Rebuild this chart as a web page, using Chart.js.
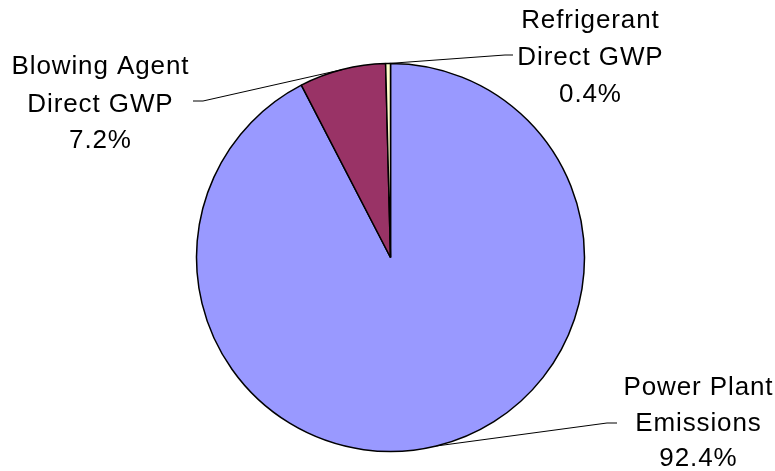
<!DOCTYPE html>
<html>
<head>
<meta charset="utf-8">
<script src="https://cdn.jsdelivr.net/npm/chart.js@4.4.1/dist/chart.umd.min.js"></script>
<style>
  html, body { margin: 0; padding: 0; background: #ffffff; }
  #wrap { width: 775px; height: 471px; position: relative; }
</style>
</head>
<body>
<div id="wrap"><canvas id="c" width="775" height="471"></canvas></div>
<script>
// ---- data ----
const categories = ["Power Plant Emissions", "Blowing Agent Direct GWP", "Refrigerant Direct GWP"];
const labelLines = [
  ["Power Plant", "Emissions"],
  ["Blowing Agent", "Direct GWP"],
  ["Refrigerant", "Direct GWP"]
];
const shares = [92.4, 7.2, 0.4];
const sliceColors = ["#9999FF", "#993366", "#FFFFCC"];

// ---- label placement (layout, not data) ----
const labelLayout = [
  { x: 698, baselines: [395, 430.5, 466], elbow: [[617, 423], [607, 423]] },
  { x: 100, baselines: [74, 111.5, 148],  elbow: [[193, 101], [203, 101]] },
  { x: 590, baselines: [28, 64.5, 101.5], elbow: [[513, 55], [505, 55]] }
];

const labelPlugin = {
  id: 'excelLabels',
  afterDatasetsDraw(chart) {
    const ctx = chart.ctx;
    const meta = chart.getDatasetMeta(0);
    const ds = chart.data.datasets[0];
    ctx.save();
    meta.data.forEach((arc, i) => {
      const p = arc.getProps(['x', 'y', 'startAngle', 'endAngle', 'outerRadius'], true);
      const mid = (p.startAngle + p.endAngle) / 2;
      const ex = p.x + Math.cos(mid) * p.outerRadius;
      const ey = p.y + Math.sin(mid) * p.outerRadius;
      const L = labelLayout[i];
      // leader line
      ctx.beginPath();
      ctx.strokeStyle = '#000000';
      ctx.lineWidth = 1;
      ctx.moveTo(L.elbow[0][0], L.elbow[0][1]);
      ctx.lineTo(L.elbow[1][0], L.elbow[1][1]);
      ctx.lineTo(ex, ey);
      ctx.stroke();
      // text
      ctx.fillStyle = '#000000';
      ctx.font = '26px "Liberation Sans", Arial, sans-serif';
      ctx.textAlign = 'center';
      ctx.textBaseline = 'alphabetic';
      try { ctx.letterSpacing = '0.9px'; } catch (e) {}
      const lines = labelLines[i].concat([ds.data[i].toFixed(1) + '%']);
      lines.forEach((t, k) => ctx.fillText(t, L.x + 0.45, L.baselines[k]));
    });
    ctx.restore();
  }
};

new Chart(document.getElementById('c'), {
  type: 'pie',
  data: {
    labels: categories,
    datasets: [{
      data: shares,
      backgroundColor: sliceColors,
      borderColor: '#000000',
      borderWidth: 1.5,
      hoverOffset: 0
    }]
  },
  options: {
    responsive: false,
    animation: false,
    radius: 194,
    layout: { padding: { top: 63.5, bottom: 19.5, left: 196.5, right: 190.5 } },
    plugins: {
      legend: { display: false },
      tooltip: { enabled: false },
      title: { display: false }
    },
    events: []
  },
  plugins: [labelPlugin]
});
</script>
</body>
</html>
